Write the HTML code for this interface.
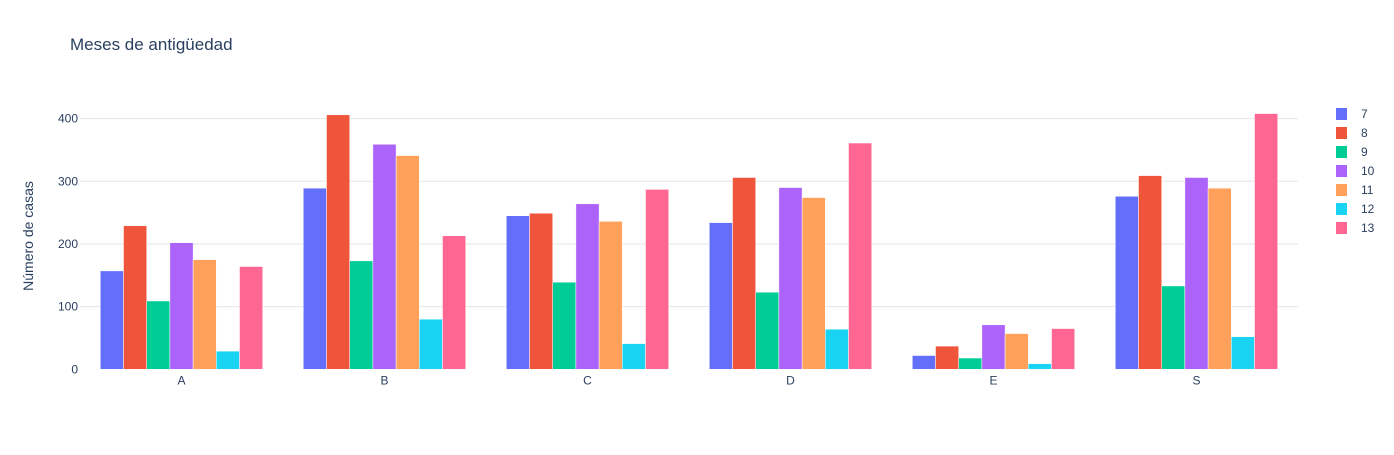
<!DOCTYPE html>
<html><head><meta charset="utf-8"><style>
body{margin:0;background:#fff;}
text{font-family:"Liberation Sans",sans-serif;fill:#2a3f5f;}
</style></head><body>
<svg id="chart" width="1394" height="450" xmlns="http://www.w3.org/2000/svg">
<rect width="1394" height="450" fill="#fff"/>
<text x="70" y="50" font-size="17">Meses de antigüedad</text>
<text transform="translate(33,236) rotate(-90)" text-anchor="middle" font-size="14">Número de casas</text>
<g id="grid"></g><g id="bars"></g><g id="xt"></g><g id="legend"></g>
</svg>
<script>
const categories=["A","B","C","D","E","S"];
const seriesNames=["7","8","9","10","11","12","13"];
const colors=["#636efa","#EF553B","#00cc96","#ab63fa","#FFA15A","#19d3f3","#FF6692"];
const s7=[157,289,245,234,22,276];
const s8=[229,406,249,306,37,309];
const s9=[109,173,139,123,18,133];
const s10=[202,359,264,290,71,306];
const s11=[175,341,236,274,57,289];
const s12=[29,80,41,64,9,52];
const s13=[164,213,287,361,65,408];
const series=[s7,s8,s9,s10,s11,s12,s13];
const yTicks=[0,100,200,300,400];
const NS="http://www.w3.org/2000/svg";
const X0=80,X1=1298,Y0=369.3,PX=0.6268;
const y=v=>Y0-v*PX;
const band=(X1-X0)/categories.length;
const xc=i=>X0+band*(i+0.5);
function mk(t,a,p){const e=document.createElementNS(NS,t);for(const k in a)e.setAttribute(k,a[k]);p.appendChild(e);return e;}
const grid=document.getElementById('grid');
yTicks.forEach(t=>{
  if(t>0){const l=mk('line',{x1:X0,x2:X1,y1:y(t),y2:y(t),stroke:'#e5e5e5','stroke-width':1},grid);
  
  }
  const tx=mk('text',{x:X0-2,y:y(t)+4,'font-size':12,'text-anchor':'end'},grid);
  tx.textContent=t;
  
  
});
const bars=document.getElementById('bars');
const gw=band*0.8,bw=gw/series.length;
series.forEach((s,j)=>{
  s.forEach((v,i)=>{
    const x=xc(i)-gw/2+j*bw;
    const r=mk('rect',{x:x,y:y(v),width:bw,height:Y0-y(v),fill:colors[j],stroke:'#fff','stroke-width':0.5},bars);
    
    
  });
});
const xt=document.getElementById('xt');
categories.forEach((c,i)=>{
  const t=mk('text',{x:xc(i),y:Y0+15,'font-size':12,'text-anchor':'middle'},xt);
  t.textContent=c;
  
  
});
const lg=document.getElementById('legend');
seriesNames.forEach((n,j)=>{
  const g=mk('g',{},lg);
  
  
  const yy=114+j*19;
  mk('rect',{x:1336,y:yy-6,width:11,height:12,fill:colors[j]},g);
  const t=mk('text',{x:1361,y:yy+4,'font-size':12},g);
  t.textContent=n;
});
</script>
</body></html>
